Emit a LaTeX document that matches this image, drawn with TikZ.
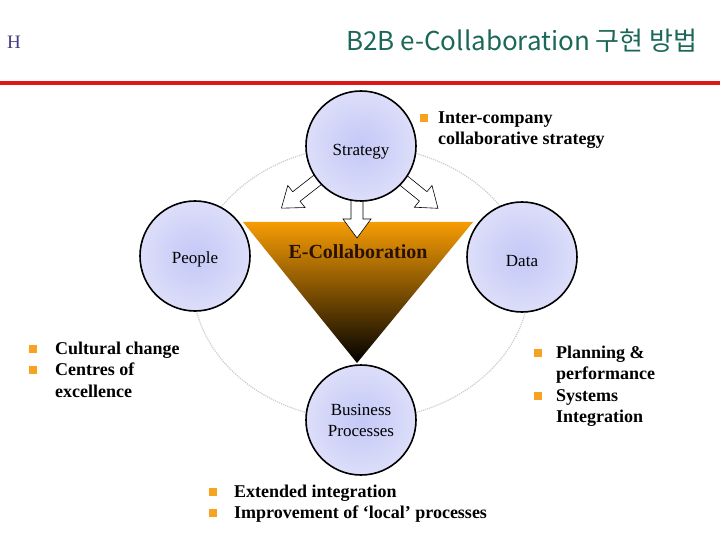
\documentclass[tikz,border=0pt]{standalone}
\usepackage{fontspec}
\setmainfont{Liberation Serif}
\newfontfamily\krfont{Noto Sans CJK KR}
\usetikzlibrary{positioning}
\definecolor{titlegreen}{RGB}{28,104,88}
\definecolor{barred}{RGB}{222,22,22}
\definecolor{ecorange}{RGB}{246,156,4}
\definecolor{bulletorange}{RGB}{247,162,32}
\definecolor{ballin}{RGB}{196,200,246}
\definecolor{ballout}{RGB}{242,242,252}
\definecolor{hchar}{RGB}{64,60,130}
\pgfdeclareradialshading{ballshade}{\pgfpoint{0bp}{0bp}}{%
  color(0bp)=(ballin); color(48bp)=(ballout); color(50bp)=(ballout)}
\newcommand{\sq}{\textcolor{bulletorange}{\raisebox{1.5pt}{\rule{8pt}{8pt}}}}
\newcommand{\lowered}[2]{\raisebox{-#1}[\height][\depth]{#2}}

\begin{document}
\begin{tikzpicture}[
    x=1pt, y=-1pt,
    ball/.style={
        circle,
        draw=black,
        line width=1.6pt,
        shading=ballshade,
        minimum size=110pt,
        align=center,
        font=\fontsize{17}{21}\selectfont
    },
    hollow/.style={
        draw=black,
        fill=white,
        line width=0.6pt
    },
    dotring/.style={
        gray!40,
        densely dotted,
        line width=1.2pt
    },
    points/.style={
        anchor=north west,
        inner sep=0pt,
        font=\fontsize{18}{21.5}\selectfont\bfseries
    }
]
\useasboundingbox (0,0) rectangle (720,540);

% ============================================================
% TITLE BAR
% ============================================================

\node[font=\fontsize{19}{19}\selectfont, text=hchar] (mark) at (14,42) {H};

\node[font=\krfont\fontsize{26}{26}\selectfont, text=titlegreen, anchor=east] (title) at (701,41)
{B2B e-Collaboration 구현 방법};

\coordinate (barl) at (0,83);
\coordinate (barr) at (720,83);
\draw[barred, line width=3.5pt] (barl) -- (barr);

% ============================================================
% RING AND TRIANGLE
% ============================================================

\draw[dotring] (361,283) ellipse [x radius=168, y radius=137];

\coordinate (tl) at (243,222);
\coordinate (tr) at (473,222);
\coordinate (apex) at (357,363);
\shade[top color=ecorange, middle color=ecorange!85!black, bottom color=black]
    (tl) -- (tr) -- (apex) -- cycle;

\node[font=\fontsize{20}{20}\selectfont\bfseries, text={rgb,255:red,42;green,16;blue,0}] (ecollab) at (358,252)
{E-Collaboration};

% ============================================================
% HOLLOW ARROWS OUT OF STRATEGY
% ============================================================

\coordinate (hub) at (361,146);
\coordinate (hubdown) at (357,146);

\draw[hollow, shift={(hubdown)}, rotate=-90]
    (50pt,6pt) -- (73pt,6pt) -- (73pt,14pt) -- (92pt,0pt)
    -- (73pt,-14pt) -- (73pt,-6pt) -- (50pt,-6pt) -- cycle;
\draw[hollow, shift={(hub)}, rotate=218]
    (50pt,6pt) -- (82pt,6pt) -- (82pt,14pt) -- (101pt,0pt)
    -- (82pt,-14pt) -- (82pt,-6pt) -- (50pt,-6pt) -- cycle;
\draw[hollow, shift={(hub)}, rotate=-39]
    (50pt,6pt) -- (80pt,6pt) -- (80pt,14pt) -- (99pt,0pt)
    -- (80pt,-14pt) -- (80pt,-6pt) -- (50pt,-6pt) -- cycle;

% ============================================================
% THE FOUR CIRCLES
% ============================================================

\node[ball] (strategy) at (361,146) {\lowered{6pt}{Strategy}};
\node[ball] (people) at (195,256) {\lowered{3pt}{People}};
\node[ball] (data) at (522,257) {\lowered{4pt}{Data}};
\node[ball] (process) at (361,420)
{Business\\Processes};

% ============================================================
% BULLET NOTES
% ============================================================

\node[points] (stratnote) at (420,108)
{\begin{tabular}{@{}l@{\hspace{10pt}}l@{}}
\sq & Inter-company\\
    & collaborative strategy
\end{tabular}};

\node[points] (peoplenote) at (29,339)
{\begin{tabular}{@{}l@{\hspace{18pt}}l@{}}
\sq & Cultural change\\
\sq & Centres of\\
    & excellence
\end{tabular}};

\node[points] (datanote) at (534,343)
{\begin{tabular}{@{}l@{\hspace{14pt}}l@{}}
\sq & Planning \&\\
    & performance\\
\sq & Systems\\
    & Integration
\end{tabular}};

\node[points] (procnote) at (209,482)
{\begin{tabular}{@{}l@{\hspace{17pt}}l@{}}
\sq & Extended integration\\
\sq & Improvement of `local' processes
\end{tabular}};

\end{tikzpicture}
\end{document}
